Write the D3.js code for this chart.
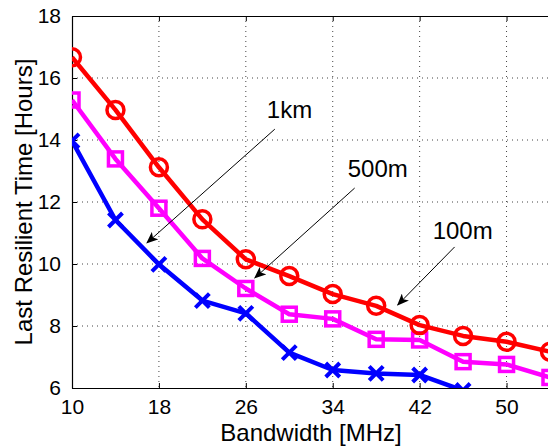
<!DOCTYPE html>
<html>
<head>
<meta charset="utf-8">
<script src="https://cdn.jsdelivr.net/npm/d3@7/dist/d3.min.js"></script>
<style>
html,body{margin:0;padding:0;background:#fff;overflow:hidden;}
text{font-family:"Liberation Sans",Arial,Helvetica,sans-serif;fill:#000;}
</style>
</head>
<body>
<script>
const bandwidth = [10,14,18,22,26,30,34,38,42,46,50,54];
const time100m = [16.67,14.97,13.12,11.44,10.15,9.61,9.03,8.65,8.03,7.68,7.49,7.17];
const time500m = [15.29,13.39,11.80,10.18,9.21,8.38,8.23,7.57,7.55,6.85,6.76,6.34];
const time1km  = [13.97,11.42,9.99,8.82,8.41,7.14,6.58,6.47,6.42,5.92];
const xTicks = [10,18,26,34,42,50];
const yTicks = [6,8,10,12,14,16,18];
const annLabels = ["1km","500m","100m"];
const annText = [[27.93,14.71],[35.38,12.81],[43.2,10.81]];
const annFrom = [[28.67,14.35],[36.02,12.45],[45.22,10.55]];
const annTo = [[16.9,10.68],[26.83,9.55],[39.98,8.68]];

const W=548,H=446;
const L=72,T=16,R=550,B=388;
const svg=d3.select("body").append("svg").attr("width",W).attr("height",H);
const x=d3.scaleLinear().domain([10,54]).range([L,R]);
const y=d3.scaleLinear().domain([6,18]).range([B,T]);

svg.append("defs").append("clipPath").attr("id","clip")
  .append("rect").attr("x",L).attr("y",T).attr("width",R-L).attr("height",B-T);
const mk=svg.select("defs").append("marker").attr("id","arr")
  .attr("viewBox","0 0 12 10").attr("refX",11).attr("refY",5)
  .attr("markerWidth",12).attr("markerHeight",10).attr("markerUnits","userSpaceOnUse")
  .attr("orient","auto");
mk.append("path").attr("d","M0,0 L12,5 L0,10 L3,5 Z").attr("fill","#000");

// grid
const grid=svg.append("g").attr("stroke","#444").attr("stroke-width",1).attr("stroke-dasharray","1,4");
grid.selectAll(".gx").data(xTicks.slice(1)).enter().append("line")
  .attr("x1",d=>x(d)).attr("x2",d=>x(d)).attr("y1",T).attr("y2",B);
grid.selectAll(".gy").data(yTicks.slice(1,-1)).enter().append("line")
  .attr("x1",L).attr("x2",R).attr("y1",d=>y(d)).attr("y2",d=>y(d));

// axes
const xAxisB=d3.axisBottom(x).tickValues(xTicks).tickSizeInner(-5).tickSizeOuter(0).tickPadding(11);
const xAxisT=d3.axisTop(x).tickValues(xTicks).tickSizeInner(-5).tickSizeOuter(0).tickFormat("");
const yAxisL=d3.axisLeft(y).tickValues(yTicks).tickSizeInner(-5).tickSizeOuter(0).tickPadding(11);
const gB=svg.append("g").attr("transform",`translate(0,${B})`).call(xAxisB);
const gT=svg.append("g").attr("transform",`translate(0,${T})`).call(xAxisT);
const gL=svg.append("g").attr("transform",`translate(${L},0)`).call(yAxisL);
[gB,gT,gL].forEach(g=>{
  g.select(".domain").attr("stroke","#000").attr("stroke-width",1.2);
  g.selectAll(".tick line").attr("stroke","#000");
  g.selectAll(".tick text").attr("font-size",21).attr("font-family","Liberation Sans, Arial, sans-serif");
});
gB.selectAll(".tick text").attr("dy","0.71em");

// series
const plot=svg.append("g").attr("clip-path","url(#clip)");
const series=[
  {vals:time1km,color:"#0000ff",m:"x"},
  {vals:time500m,color:"#ff00ff",m:"s"},
  {vals:time100m,color:"#ff0000",m:"o"}
];
const line=d3.line().x(d=>x(d[0])).y(d=>y(d[1]));
series.forEach(s=>{
  const pts=s.vals.map((v,i)=>[bandwidth[i],v]);
  plot.append("path").datum(pts).attr("d",line).attr("fill","none")
    .attr("stroke",s.color).attr("stroke-width",4.5).attr("stroke-linejoin","round");
  const g=plot.append("g");
  pts.forEach(p=>{
    const cx=x(p[0]),cy=y(p[1]);
    if(s.m==="o"){
      g.append("circle").attr("cx",cx).attr("cy",cy).attr("r",8.5)
        .attr("fill","none").attr("stroke",s.color).attr("stroke-width",3.5);
    }else if(s.m==="s"){
      g.append("rect").attr("x",cx-7).attr("y",cy-7).attr("width",14).attr("height",14)
        .attr("fill","none").attr("stroke",s.color).attr("stroke-width",3.5);
    }else{
      const r=7;
      g.append("path").attr("d",`M${cx-r},${cy-r}L${cx+r},${cy+r}M${cx-r},${cy+r}L${cx+r},${cy-r}`)
        .attr("stroke",s.color).attr("stroke-width",4);
    }
  });
});

// annotations
annLabels.forEach((lab,i)=>{
  svg.append("line").attr("x1",x(annFrom[i][0])).attr("y1",y(annFrom[i][1]))
    .attr("x2",x(annTo[i][0])).attr("y2",y(annTo[i][1]))
    .attr("stroke","#000").attr("stroke-width",1).attr("marker-end","url(#arr)");
  svg.append("text").attr("x",x(annText[i][0])).attr("y",y(annText[i][1]))
    .attr("font-size",24).text(lab);
});

// labels
svg.append("text").attr("x",(L+R)/2).attr("y",441).attr("text-anchor","middle")
  .attr("font-size",24).text("Bandwidth [MHz]");
svg.append("text").attr("transform",`translate(32,${(T+B)/2}) rotate(-90)`)
  .attr("text-anchor","middle").attr("font-size",24).text("Last Resilient Time [Hours]");
</script>
</body>
</html>
